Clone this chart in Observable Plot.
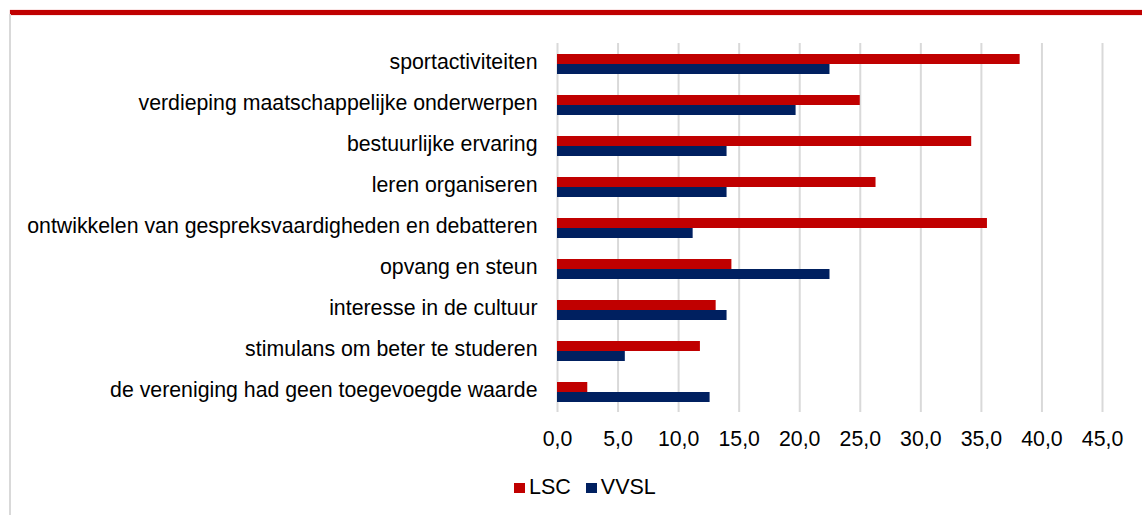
<!DOCTYPE html>
<html>
<head>
<meta charset="utf-8">
<script src="https://cdn.jsdelivr.net/npm/d3@7"></script>
<script src="https://cdn.jsdelivr.net/npm/@observablehq/plot@0.6"></script>
<style>
  html, body { margin: 0; padding: 0; background: #fff; }
  #wrap { position: relative; width: 1142px; height: 515px; overflow: hidden; font-family: "Liberation Sans", Arial, sans-serif; }
  #topband { position: absolute; left: 10px; top: 10px; width: 1132px; height: 5px; background: #c00000; box-shadow: 0 0 1px #e06666; }
  #leftborder { position: absolute; left: 9px; top: 14px; width: 2px; height: 501px; background: #d9d9d9; }
  #chart { position: absolute; left: 0; top: 0; }
  #legend { position: absolute; top: 475px; left: 0; width: 1142px; display: flex; justify-content: flex-start; padding-left: 514px; box-sizing: border-box; font-size: 21.5px; color: #000; }
  .item { display: flex; align-items: center; margin-right: 15px; }
  .sw { width: 11px; height: 10px; margin-right: 4px; }
</style>
</head>
<body>
<div id="wrap">
  <div id="topband"></div>
  <div id="leftborder"></div>
  <div id="chart"></div>
  <div id="legend"></div>
</div>
<script>
const categories = [
  "sportactiviteiten",
  "verdieping maatschappelijke onderwerpen",
  "bestuurlijke ervaring",
  "leren organiseren",
  "ontwikkelen van gespreksvaardigheden en debatteren",
  "opvang en steun",
  "interesse in de cultuur",
  "stimulans om beter te studeren",
  "de vereniging had geen toegevoegde waarde"
];
const seriesNames = ["LSC", "VVSL"];
const lscValues  = [38.2, 25.0, 34.2, 26.3, 35.5, 14.4, 13.1, 11.8, 2.5];
const vvslValues = [22.5, 19.7, 14.0, 14.0, 11.2, 22.5, 14.0, 5.6, 12.6];
const seriesColors = ["#c00000", "#002060"];
const xTicks = [0, 5, 10, 15, 20, 25, 30, 35, 40, 45];

const data = [];
categories.forEach((c, i) => {
  data.push({cat: c, series: seriesNames[0], value: lscValues[i]});
  data.push({cat: c, series: seriesNames[1], value: vvslValues[i]});
});

const fmt = d => d.toFixed(1).replace(".", ",");

const chart = Plot.plot({
  width: 1142,
  height: 470,
  marginTop: 42,
  marginBottom: 58,
  marginLeft: 557,
  marginRight: 40,
  style: {fontFamily: "'Liberation Sans', Arial, sans-serif", fontSize: "21px", color: "#000", background: "transparent"},
  x: {domain: [0, 45], range: [557, 1102], ticks: xTicks, axis: null},
  fy: {domain: categories, paddingInner: 0, paddingOuter: 0},
  y: {domain: seriesNames, paddingInner: 0, paddingOuter: 0.87, axis: null},
  color: {domain: seriesNames, range: seriesColors},
  marks: [
    Plot.gridX(xTicks, {stroke: "#d9d9d9", strokeOpacity: 1, strokeWidth: 2}),
    Plot.barX(data, {fy: "cat", y: "series", x: "value", fill: "series"}),
    Plot.axisFy({anchor: "left", tickSize: 0, tickPadding: 20, label: null, fontSize: 21.3, dy: -1.5}),
    Plot.axisX(xTicks, {anchor: "bottom", tickSize: 0, tickPadding: 18, tickFormat: fmt, label: null, fontSize: 21.3})
  ]
});
document.getElementById("chart").appendChild(chart);

const legend = document.getElementById("legend");
seriesNames.forEach((s, i) => {
  const item = document.createElement("div");
  item.className = "item";
  const sw = document.createElement("div");
  sw.className = "sw";
  sw.style.background = seriesColors[i];
  const t = document.createElement("span");
  t.textContent = s;
  item.appendChild(sw);
  item.appendChild(t);
  legend.appendChild(item);
});
</script>
</body>
</html>
